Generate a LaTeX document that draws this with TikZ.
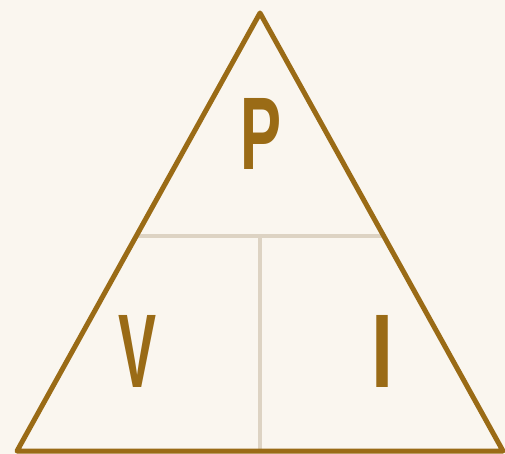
\documentclass[tikz,border=0pt]{standalone}
\usepackage{fontspec}
\usepackage{graphicx}
\setmainfont{Liberation Sans}
\usetikzlibrary{calc}
\definecolor{pviback}{HTML}{FAF6EF}
\definecolor{pvibrown}{HTML}{9A6B16}
\definecolor{pvigrid}{HTML}{DDD3C3}

\begin{document}
\begin{tikzpicture}[
  x=1pt, y=-1pt,
  edge/.style={draw=pvibrown, line width=5pt, line join=round},
  split/.style={draw=pvigrid, line width=3.5pt},
  letter/.style={inner sep=0pt, text=pvibrown, font=\bfseries},
]
% ---- page ----
\fill[pviback] (0,0) rectangle (505,454);
\useasboundingbox (0,0) rectangle (505,454);

% ---- corners of the triangle ----
\coordinate (top) at (260,13);
\coordinate (left) at (17,451);
\coordinate (right) at (503,451);

% ---- splitting lines ----
\coordinate (hl) at ($(top)!0.509!(left)$);
\coordinate (hr) at ($(top)!0.509!(right)$);
\coordinate (mid) at ($(hl)!0.5!(hr)$);
\coordinate (base) at ($(left)!0.5!(right)$);
\draw[split] (hl) -- (hr);
\draw[split] (mid) -- (base);

% ---- outline ----
\draw[edge] (top) -- (left) -- (right) -- cycle;

% ---- letters ----
\node[letter] (p) at (261.5,133.5) {\resizebox{41pt}{71pt}{P}};
\node[letter] (v) at (137.5,351) {\resizebox{38pt}{72pt}{V}};
\node[letter] (i) at (382.5,351) {\resizebox{22pt}{72pt}{I}};
\end{tikzpicture}
\end{document}
